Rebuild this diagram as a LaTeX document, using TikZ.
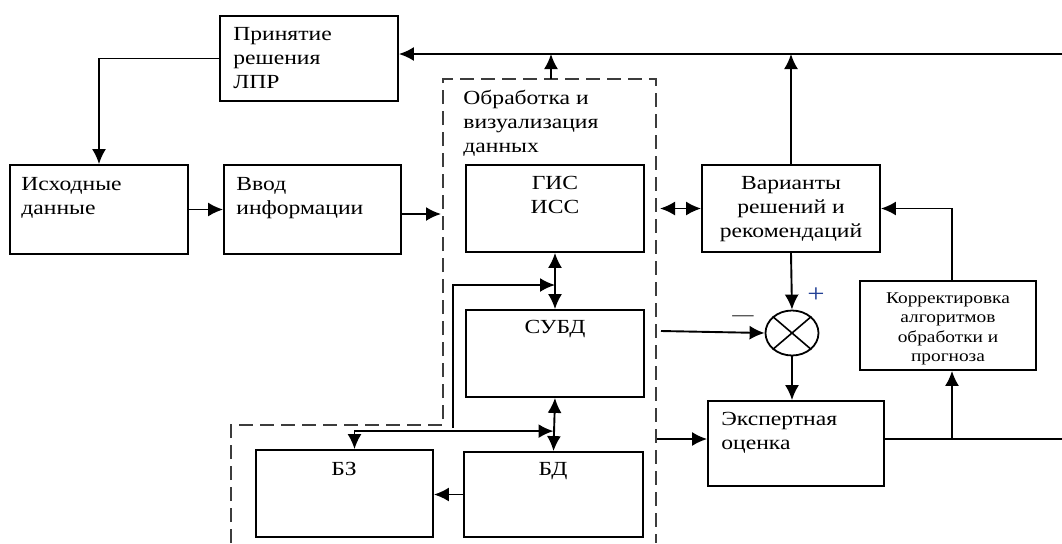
\documentclass[tikz,border=0pt]{standalone}
\usepackage{fontspec}
\setmainfont{Liberation Serif}[FakeStretch=1.18]
\usetikzlibrary{arrows.meta, shapes.geometric, calc}
\definecolor{plusblue}{RGB}{35, 65, 150}
\definecolor{grpgray}{RGB}{60, 60, 60}
\tikzset{
  blk/.style={draw, line width=0.9pt, inner sep=0pt},
  txt/.style={inner sep=0pt, align=left, font=\fontsize{10}{12}\selectfont},
  ctxt/.style={txt, align=center},
  arr/.style={line width=0.95pt, -{Latex[length=7.5pt, width=7pt]}},
  arr2/.style={line width=0.95pt, {Latex[length=7.5pt, width=7pt]}-{Latex[length=7.5pt, width=7pt]}},
  grpline/.style={draw=grpgray, line width=0.9pt, dash pattern=on 7pt off 3.5pt}
}

\begin{document}
\begin{tikzpicture}[x=0.5pt, y=-0.5pt]
  \useasboundingbox (0,0) rectangle (1062,543);

  % dashed processing area
  \coordinate (gA) at (231,543);
  \coordinate (gB) at (231,425);
  \coordinate (gC) at (443,425);
  \coordinate (gD) at (443,79);
  \coordinate (gE) at (656,79);
  \coordinate (gF) at (656,543);
  \draw[grpline] (gA) -- (gB) -- (gC) -- (gD) -- (gE) -- (gF);

  % blocks
  \node[blk, minimum width=89pt, minimum height=42.5pt] (lpr) at (309,58.5) {};
  \node[blk, minimum width=89pt, minimum height=44.5pt] (src) at (99,209.5) {};
  \node[blk, minimum width=88.5pt, minimum height=44.5pt] (input) at (312.5,209.5) {};
  \node[blk, minimum width=89pt, minimum height=43.5pt] (gis) at (555,208.5) {};
  \node[blk, minimum width=89pt, minimum height=43.5pt] (var) at (791,208.5) {};
  \node[blk, minimum width=89pt, minimum height=43.5pt] (subd) at (555,353.5) {};
  \node[blk, minimum width=88.5pt, minimum height=43.5pt] (bz) at (344.5,493.5) {};
  \node[blk, minimum width=89.5pt, minimum height=42.5pt] (bd) at (553.5,494.5) {};
  \node[blk, minimum width=88pt, minimum height=42.5pt] (exp) at (796,443.5) {};
  \node[blk, minimum width=88pt, minimum height=44.5pt] (corr) at (948,325.5) {};

  % comparator
  \node[blk, ellipse, minimum width=26.5pt, minimum height=22.5pt] (sum) at (792,333) {};
  \draw[line width=0.8pt] (sum.north west) -- (sum.south east) (sum.north east) -- (sum.south west);

  % texts
  \node[txt, anchor=north west] (lpr-t) at (233,27) {Принятие\\решения\\ЛПР};
  \node[txt, anchor=north west] (src-t) at (21,177) {Исходные\\данные};
  \node[txt, anchor=north west] (input-t) at (236,177) {Ввод\\информации};
  \node[txt, anchor=north west] (proc-t) at (463,90) {Обработка и\\визуализация\\данных};
  \node[ctxt, anchor=north] (gis-t) at (555,176) {ГИС\\ИСС};
  \node[ctxt, anchor=north] (var-t) at (791,176) {Варианты\\решений и\\рекомендаций};
  \node[ctxt, anchor=north] (subd-t) at (555,320) {СУБД};
  \node[ctxt, anchor=north] (bz-t) at (344,462) {БЗ};
  \node[ctxt, anchor=north] (bd-t) at (553,462) {БД};
  \node[txt, anchor=north west] (exp-t) at (721,412) {Экспертная\\оценка};
  \node[ctxt, anchor=north, font=\fontsize{8.2}{9.75}\selectfont] (corr-t) at (948,292)
    {Корректировка\\алгоритмов\\обработки и\\прогноза};
  \node[inner sep=0pt, font=\fontsize{13}{14}\selectfont, text=plusblue] (plus) at (816,295) {+};
  \node[inner sep=0pt, font=\fontsize{9}{12}\selectfont] (minus) at (743,318) {—};

  % connectors
  \coordinate (topR) at (1062,54);
  \coordinate (procOut) at (551,79);
  \coordinate (fbB) at (453,428);
  \coordinate (fbT) at (453,285);
  \coordinate (subdOut) at (661,331);
  \coordinate (expIn) at (657,439);
  \coordinate (expR) at (1062,439);
  \coordinate (brn) at (952,439);

  \draw[arr] (lpr.west) -| (src.north);
  \draw[arr] (src.east) -- (input.west);
  \draw[arr, shorten >=1pt] ([yshift=-2.25pt]input.east) -- ([yshift=-2.25pt]input.east -| gD);
  \draw[arr] (topR) -- (topR -| lpr.east);
  \draw[arr] (procOut) -- (procOut |- topR);
  \draw[arr] (var.north) -- (var.north |- topR);
  \draw[arr2] ([xshift=2pt]gE |- var.west) -- (var.west);
  \draw[arr2] (gis.south) -- (subd.north);
  \draw[arr] (fbB) -- (fbT) -- (fbT -| subd.north);
  \draw[arr2] (subd.south) -- (bd.north);
  \draw[arr2] ([xshift=5pt]bz.north) |- ($(bd.north)+(0,-20)$);
  \draw[arr] (bd.west) -- (bd.west -| bz.east);
  \draw[arr] (subdOut) -- (sum.west);
  \draw[arr] (var.south) -- (sum.north);
  \draw[arr] (sum.south) -- (sum.south |- exp.north);
  \draw[arr] (expIn) -- (expIn -| exp.west);
  \draw[line width=0.9pt] (expIn -| exp.east) -- (expR);
  \draw[arr] (brn) -- (brn |- corr.south);
  \draw[arr] ([xshift=2pt]corr.north) |- (var.east);
\end{tikzpicture}
\end{document}
